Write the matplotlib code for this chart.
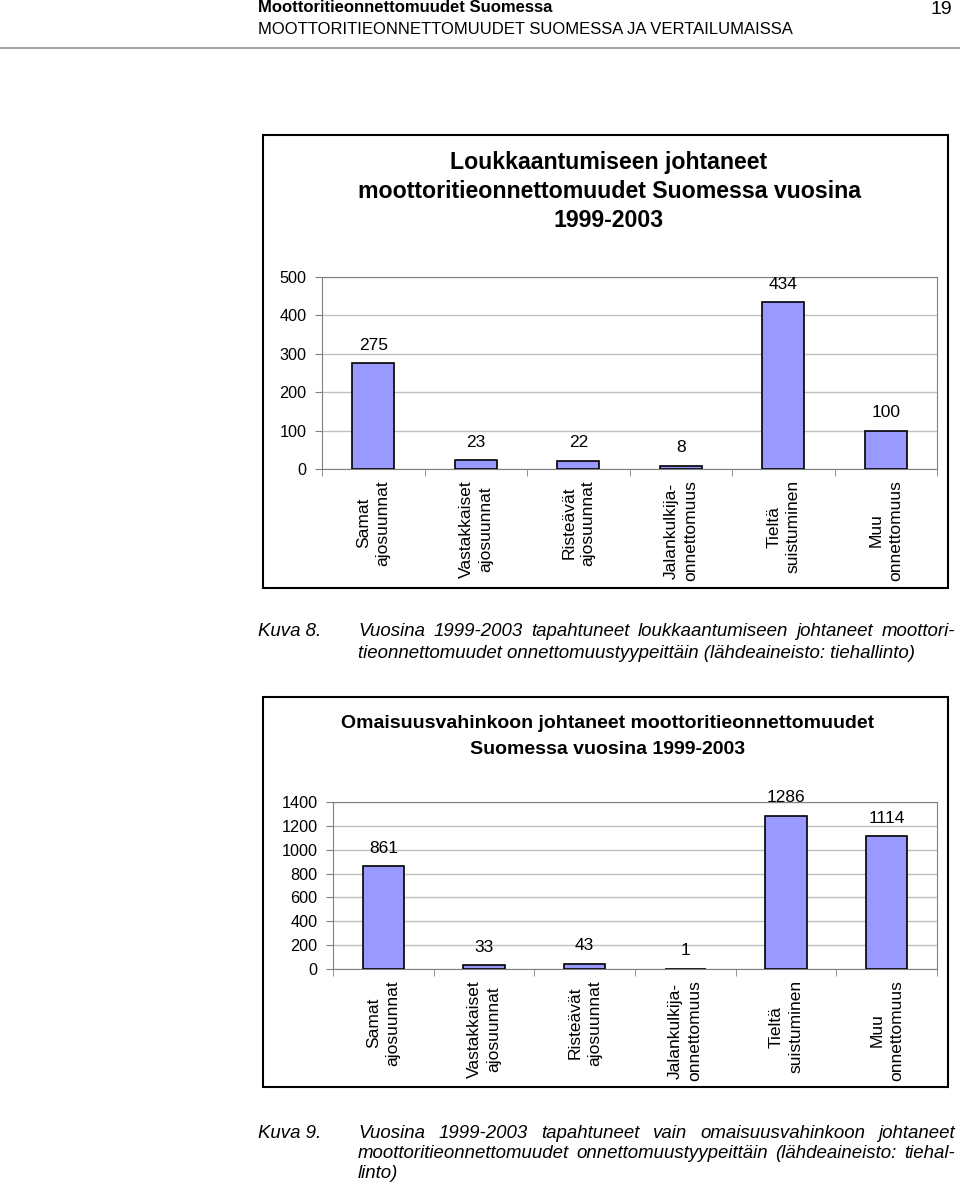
import matplotlib
matplotlib.use('Agg')
import matplotlib.pyplot as plt
from matplotlib.patches import Rectangle
from matplotlib.lines import Line2D
import numpy as np

plt.rcParams['font.family'] = ['Liberation Sans', 'DejaVu Sans']

# data
kategoriat = ['Samat\najosuunnat', 'Vastakkaiset\najosuunnat', 'Risteävät\najosuunnat',
              'Jalankulkija-\nonnettomuus', 'Tieltä\nsuistuminen', 'Muu\nonnettomuus']
loukkaantumiset = [275, 23, 22, 8, 434, 100]
omaisuusvahingot = [861, 33, 43, 1, 1286, 1114]
y_asteikko1 = [0, 100, 200, 300, 400, 500]
y_asteikko2 = [0, 200, 400, 600, 800, 1000, 1200, 1400]

otsikko1 = ['Loukkaantumiseen johtaneet',
            'moottoritieonnettomuudet Suomessa vuosina',
            '1999-2003']
otsikko2 = ['Omaisuusvahinkoon johtaneet moottoritieonnettomuudet',
            'Suomessa vuosina 1999-2003']
kuvateksti8 = ['Vuosina 1999-2003 tapahtuneet loukkaantumiseen johtaneet moottori-',
               'tieonnettomuudet onnettomuustyypeittäin (lähdeaineisto: tiehallinto)']
kuvateksti9 = ['Vuosina 1999-2003 tapahtuneet vain omaisuusvahinkoon johtaneet',
               'moottoritieonnettomuudet onnettomuustyypeittäin (lähdeaineisto: tiehal-',
               'linto)']

W, H = 960, 1186
fig = plt.figure(figsize=(W / 100, H / 100), dpi=100)


def fx(x):
    return x / W


def fy(y):
    return 1 - y / H


def kehys(x0, y0, x1, y1):
    fig.add_artist(Rectangle((fx(x0), fy(y1)), (x1 - x0) / W, (y1 - y0) / H,
                             transform=fig.transFigure, fill=False,
                             edgecolor='black', linewidth=1.5))


def pylvaat(rect, arvot, ylaraja, asteikko, tick_koko):
    x0, y0, x1, y1 = rect
    ax = fig.add_axes([fx(x0), fy(y1), (x1 - x0) / W, (y1 - y0) / H])
    x = np.arange(len(arvot))
    palkit = ax.bar(x, arvot, width=0.41, color='#9999ff', edgecolor='black',
                    linewidth=1.2, zorder=3)
    ax.set_xlim(-0.5, len(arvot) - 0.5)
    ax.set_ylim(0, ylaraja)
    ax.set_yticks(asteikko)
    ax.yaxis.grid(True, color='#c0c0c0', linewidth=1)
    ax.set_axisbelow(True)
    ax.set_xticks(x)
    ax.set_xticklabels(kategoriat, rotation=90, fontsize=12.5, linespacing=1.35)
    ax.set_xticks(np.arange(-0.5, len(arvot)), minor=True)
    ax.tick_params(axis='x', which='major', length=0, pad=8)
    ax.tick_params(axis='x', which='minor', length=5, color='#808080')
    ax.tick_params(axis='y', length=5, color='#808080', pad=6, labelsize=tick_koko)
    for s in ax.spines.values():
        s.set_color('#808080')
    for p, v in zip(palkit, arvot):
        ax.annotate(str(v), (p.get_x() + p.get_width() / 2, v), xytext=(0, 13),
                    textcoords='offset points', ha='center', va='center', fontsize=12.5)
    return ax


def tasattu(rivit, x0, x1, y0, vali_y, koko):
    renderer = fig.canvas.get_renderer()
    for i, rivi in enumerate(rivit):
        y = y0 + i * vali_y
        if i == len(rivit) - 1:
            fig.text(fx(x0), fy(y), rivi, fontsize=koko, style='italic', va='center')
            continue
        sanat = rivi.split(' ')
        tekstit = [fig.text(0, fy(y), s, fontsize=koko, style='italic', va='center')
                   for s in sanat]
        leveydet = [t.get_window_extent(renderer).width for t in tekstit]
        vali = (x1 - x0 - sum(leveydet)) / (len(sanat) - 1)
        x = x0
        for t, w in zip(tekstit, leveydet):
            t.set_x(fx(x))
            x += w + vali


# header
fig.text(fx(258), fy(7), 'Moottoritieonnettomuudet Suomessa', fontsize=12,
         fontweight='bold', va='center')
fig.text(fx(258), fy(29), 'MOOTTORITIEONNETTOMUUDET SUOMESSA JA VERTAILUMAISSA',
         fontsize=12, va='center')
fig.text(fx(952), fy(10), '19', fontsize=14, ha='right', va='center')
fig.add_artist(Line2D([0, 1], [fy(48), fy(48)], transform=fig.transFigure,
                      color='#909090', linewidth=1.2))

# kuva 8
kehys(263, 135, 948, 588)
for i, rivi in enumerate(otsikko1):
    fig.text(fx(609), fy(163 + 29 * i), rivi, fontsize=16.7, fontweight='bold',
             ha='center', va='center')
pylvaat((322, 277, 937, 469), loukkaantumiset, 500, y_asteikko1, 11.7)
fig.text(fx(258), fy(632), 'Kuva 8.', fontsize=13.4, style='italic', va='center')
tasattu(kuvateksti8, 358, 955, 632, 21, 13.4)

# kuva 9
kehys(263, 697, 948, 1087)
for i, rivi in enumerate(otsikko2):
    fig.text(fx(608), fy(724 + 26 * i), rivi, fontsize=14, fontweight='bold',
             ha='center', va='center')
pylvaat((333, 802, 937, 969), omaisuusvahingot, 1400, y_asteikko2, 11.7)
fig.text(fx(258), fy(1133), 'Kuva 9.', fontsize=13.4, style='italic', va='center')
tasattu(kuvateksti9, 358, 955, 1133, 20.5, 13.4)

fig.savefig('out.png', dpi=100)
